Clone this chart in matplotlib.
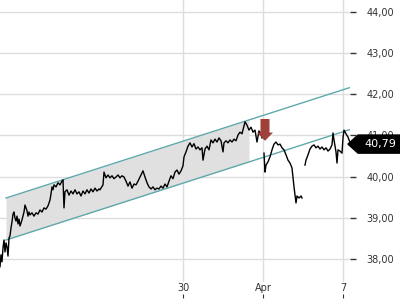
import numpy as np
import matplotlib.pyplot as plt
from matplotlib.patches import Polygon

# intraday bars (bar index) and close prices, nan = session gap
bars = [0, 1, 2, 3, 4, 5, 6, 7, 8, 9, 10, 11, 12, 13, 14, 15, 16, 17, 18, 19, 20,
        22, 24, 25, 26, 27, 28, 29, 30, 32, 34, 36, 38, 40, 42, 44, 46, 48, 50, 51,
        52, 53, 54, 56, 58, 60, 62, 63, 64, 65, 67, 69, 71, 73, 75, 77, 79, 81, 83,
        85, 87, 89, 91, 93, 95, 97, 99, 100, 103, 104, 106, 108, 110, 112, 114, 116,
        118, 120, 122, 124, 126, 128, 130, 132, 134, 136, 138, 140, 142, 143, 145,
        147, 149, 151, 153, 155, 157, 159, 161, 163, 165, 167, 169, 171, 173, 175,
        177, 179, 181, 183, 184, 186, 188, 190, 192, 194, 196, 198, 200, 202, 203,
        205, 207, 209, 211, 213, 215, 217, 219, 221, 223, 224, 226, 228, 230, 232,
        234, 236, 238, 240, 242, 244, 245, 247, 249, 251, 253, 255, 257, 259, 261,
        262, 263, 264, 265, 266, 268, 270, 272, 274, 276, 278, 280, 282, 284, 286,
        288, 290, 292, 293, 294, 295, 296, 297, 299, 301, 302, 303, 305, 306, 308,
        310, 312, 314, 316, 318, 320, 322, 324, 326, 328, 330, 332, 333, 334, 336,
        337, 338, 340, 342, 343, 344, 346, 348, 349, 351]
prices = [37.81, 38.10, 37.93, 38.27, 38.46, 38.17, 38.39, 38.29, 38.07, 38.51, 38.56,
          38.75, 38.90, 39.09, 39.14, 38.99, 38.92, 39.04, 38.85, 38.97, 38.80,
          38.95, 39.14, 39.31, 39.24, 39.17, 39.04, 39.14, 39.07, 39.12, 39.04, 39.12,
          39.09, 39.19, 39.14, 39.24, 39.21, 39.29, 39.43, 39.58,
          39.75, 39.68, 39.80, 39.75, 39.85, 39.80, 39.89, 39.92, 39.24, 39.63, 39.68,
          39.55, 39.65, 39.58, 39.68, 39.58, 39.63, 39.53, 39.65,
          39.58, 39.68, 39.60, 39.70, 39.63, 39.72, 39.65, 39.70, 39.68, 39.80, 40.11,
          39.97, 40.04, 39.97, 40.02, 39.95, 39.99,
          40.04, 39.97, 40.02, 39.99, 39.89, 39.77, 39.87, 39.72, 39.82, 39.80, 39.89,
          39.99, 40.09, 40.14, 39.99,
          39.85, 39.75, 39.70, 39.75, 39.68, 39.72, 39.70, 39.77, 39.72, 39.82, 39.75,
          39.89, 40.02, 39.95, 40.11,
          40.16, 40.06, 40.14, 40.26, 40.48, 40.60, 40.74, 40.82, 40.72, 40.80, 40.67,
          40.72, 40.65, 40.70, 40.40,
          40.67, 40.74, 40.65, 40.89, 40.82, 40.91, 40.84, 40.94, 40.87, 40.60, 40.82,
          40.87, 40.82, 40.89, 40.84,
          40.91, 40.87, 41.01, 41.08, 41.04, 41.23, 41.33, 41.25, 41.13, 41.20, 41.08,
          41.13, 40.84, 41.11, 41.04,
          40.94, np.nan, 40.57, 40.11, 40.28, 40.36, 40.48, 40.65, 40.79, 40.84, 40.77,
          40.79, 40.70, 40.65, 40.53,
          40.40, 40.33, 40.21, 39.97, 39.75, 39.55, 39.36, 39.53, 39.48, 39.53, 39.48,
          np.nan, 40.28, 40.40, 40.53,
          40.67, 40.74, 40.77, 40.70, 40.74, 40.67, 40.72, 40.65, 40.70, 40.62, 40.67,
          40.77, 41.06, 40.89, 40.60,
          40.33, 40.65, 40.62, 40.57, 40.94, 41.13, 41.04, 40.96, 40.89, 40.79]
last_price = 40.79

# regression channel end points and shaded part
channel_x = [6, 352]
channel_upper = [39.48, 42.18]
channel_lower = [38.46, 41.16]
shade_end = 249

# signal arrow
signal_bar = 265
signal_top = 41.40
signal_tip = 40.87

tick_bars = [183, 263, 343]
tick_names = ['30', 'Apr', '7']
yticks = [38, 39, 40, 41, 42, 43, 44]

fig = plt.figure(figsize=(4, 3), dpi=100)
ax = fig.add_axes([0, 0.06, 0.875, 0.94])

sx = np.linspace(channel_x[0], shade_end, 50)
su = np.interp(sx, channel_x, channel_upper)
sl = np.interp(sx, channel_x, channel_lower)
ax.fill_between(sx, sl, su, color='#e0e0e0', lw=0, zorder=1)
ax.plot(channel_x, channel_upper, color='#5fa8ad', lw=1, zorder=2)
ax.plot(channel_x, channel_lower, color='#5fa8ad', lw=1, zorder=2)

ax.plot(bars, prices, color='black', lw=1.0, zorder=3)

ax.arrow(signal_bar, signal_top, 0, -(signal_top - signal_tip), width=9,
         head_width=16, head_length=0.2, length_includes_head=True,
         color='#a0403a', lw=0, zorder=4)

ax.set_xlim(0, 350)
ax.set_ylim(37.44, 44.29)
ax.set_xticks(tick_bars)
ax.set_xticklabels(tick_names)
ax.set_yticks(yticks)
ax.set_yticklabels([('%.2f' % v).replace('.', ',') for v in yticks])
ax.yaxis.tick_right()
ax.grid(True, color='#dddddd', lw=1)
ax.set_axisbelow(True)
for s in ax.spines.values():
    s.set_visible(False)
ax.tick_params(axis='y', length=4, width=1, color='#333333', pad=8,
               labelsize=7, labelcolor='#333333')
ax.tick_params(axis='x', length=0, pad=1, labelsize=7, labelcolor='#333333')

sec = ax.secondary_xaxis(-0.055)
sec.set_xticks(tick_bars)
sec.set_xticklabels([])
sec.tick_params(length=3, color='#333333', direction='in')
sec.spines['bottom'].set_visible(False)

# last price tag
h = 0.22
tag = Polygon([(0.994, last_price), (1.023, last_price + h), (1.2, last_price + h),
               (1.2, last_price - h), (1.023, last_price - h)],
              closed=True, color='black', transform=ax.get_yaxis_transform(),
              clip_on=False, zorder=5)
ax.add_patch(tag)
ax.text(1.086, last_price, ('%.2f' % last_price).replace('.', ','), color='white',
        fontsize=8, ha='center', va='center', transform=ax.get_yaxis_transform(),
        zorder=6)

fig.savefig('out.png', dpi=100)
